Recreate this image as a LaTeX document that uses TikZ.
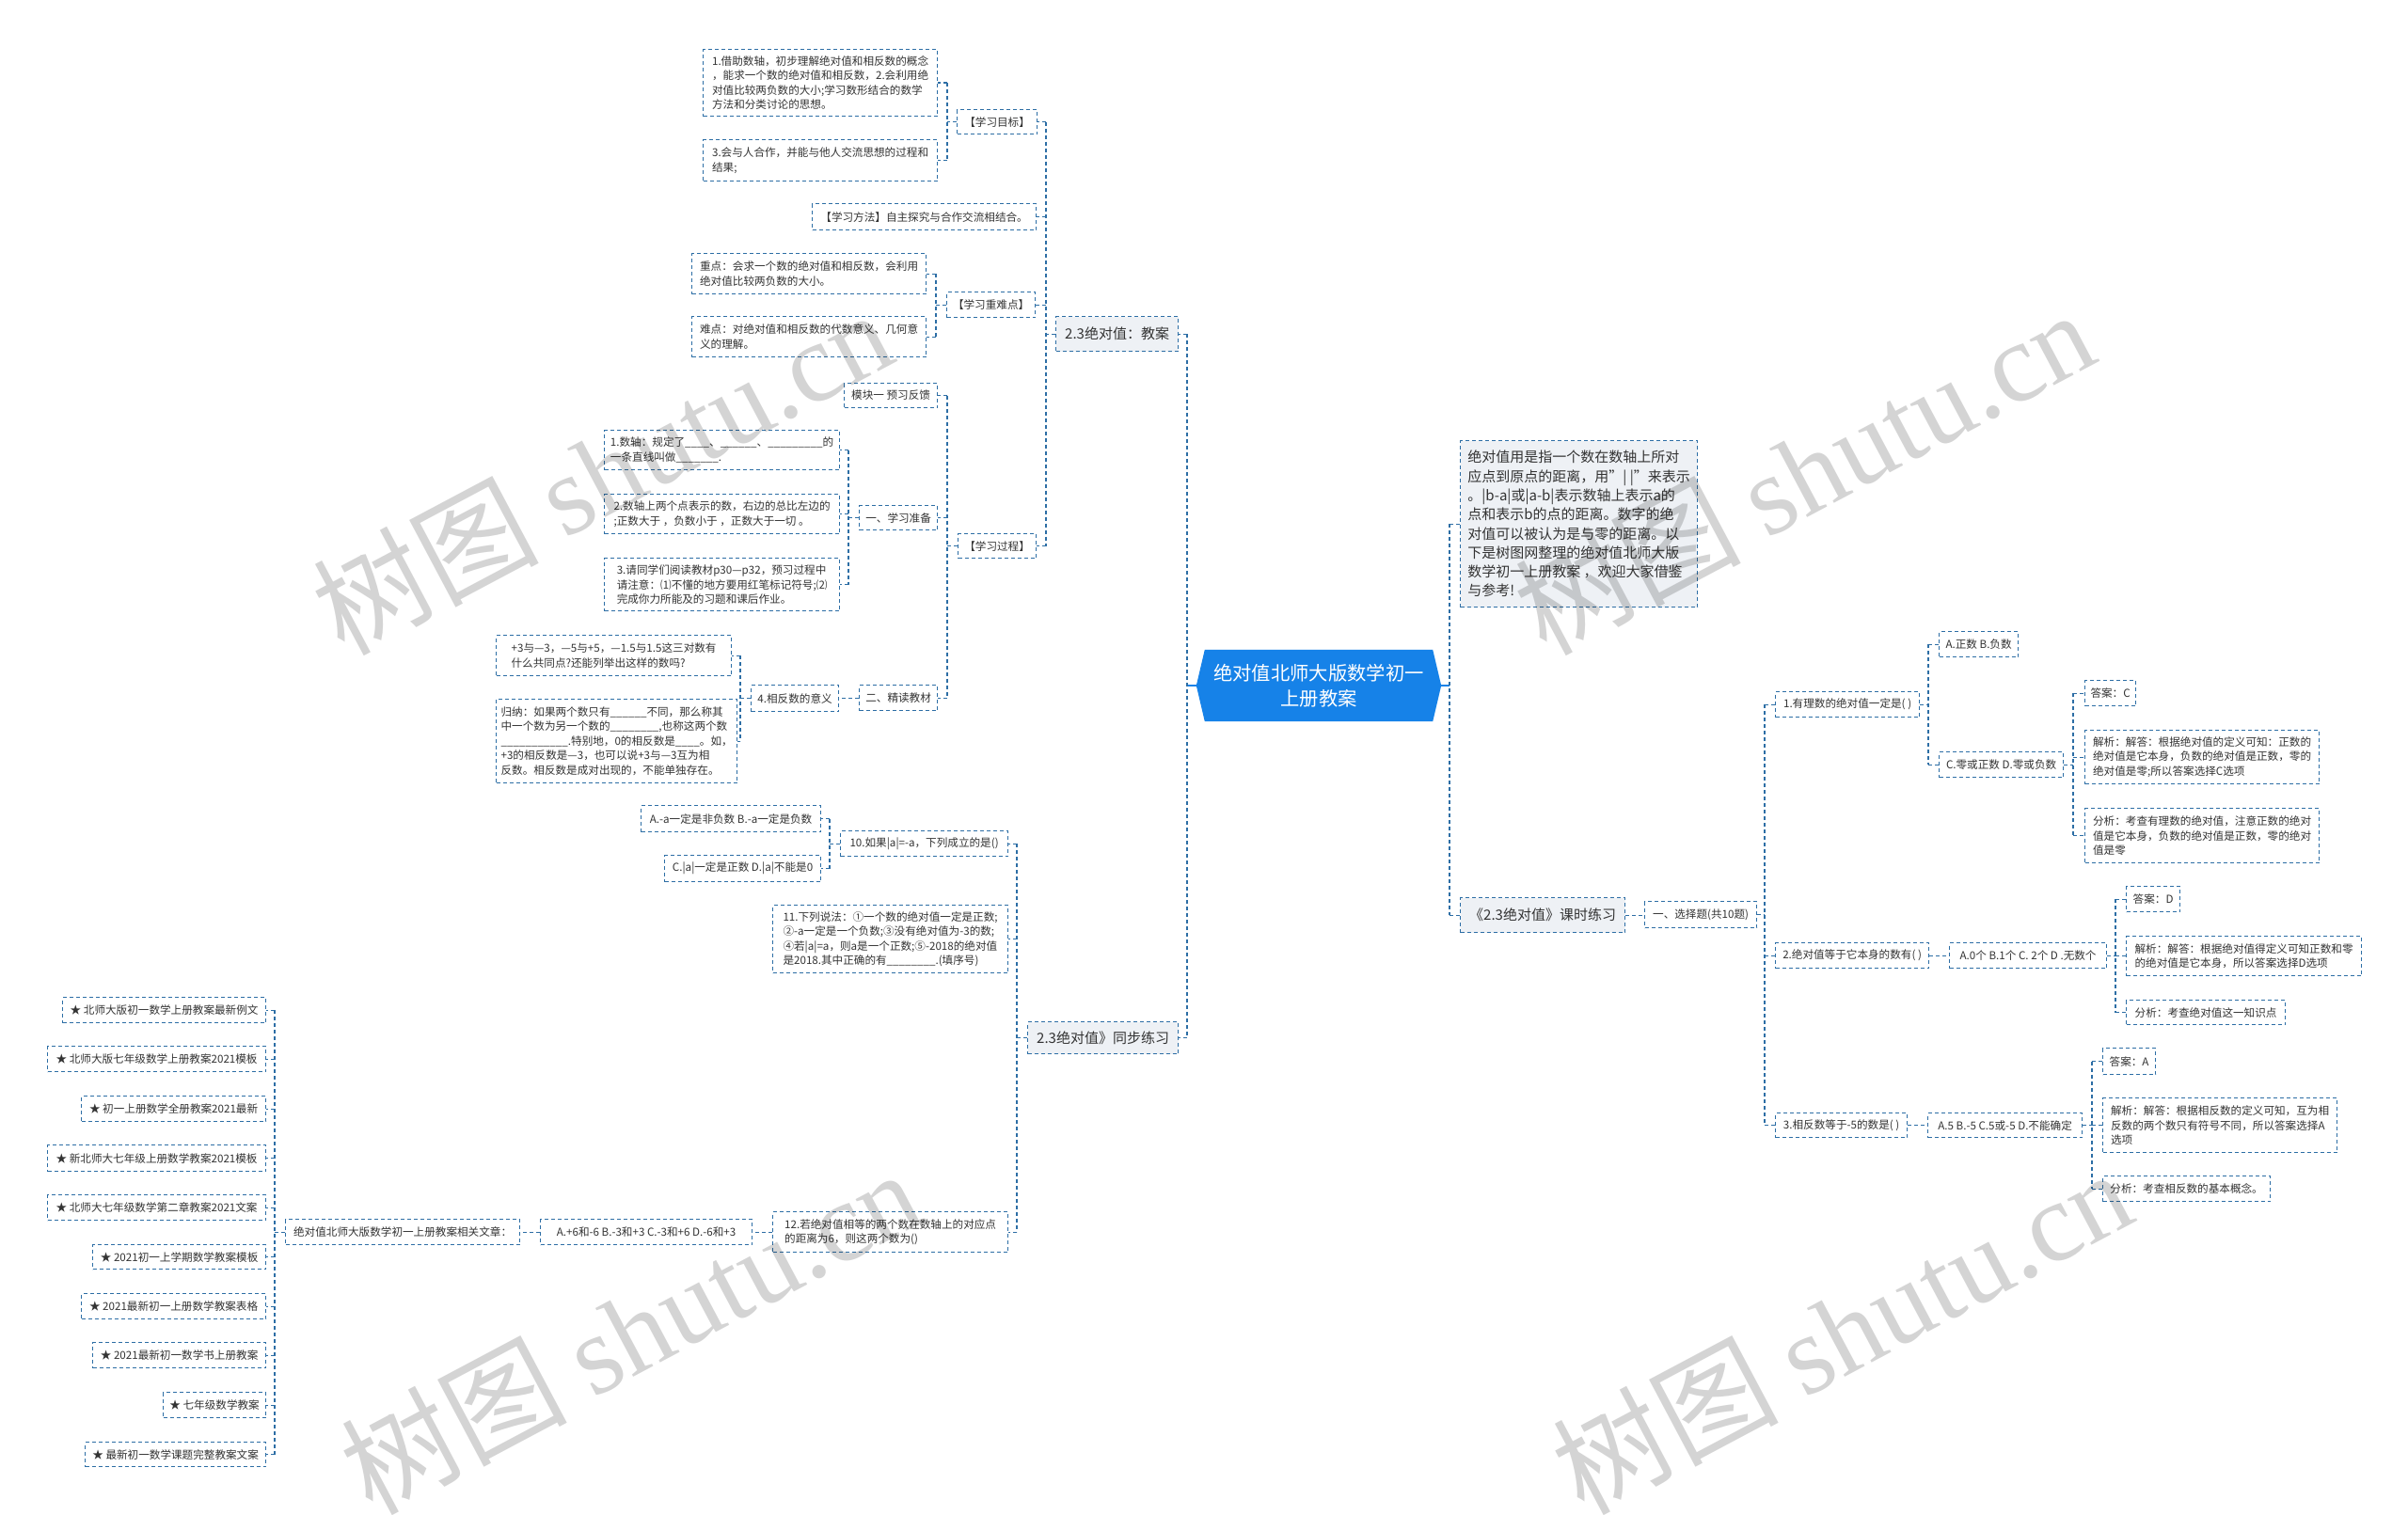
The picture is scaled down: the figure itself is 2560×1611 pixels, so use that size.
\documentclass[tikz,border=0pt]{standalone}
\usepackage{fontspec}
\setmainfont{Noto Sans CJK SC}
\newfontfamily\wmserif{Liberation Serif}
\usetikzlibrary{backgrounds}
\definecolor{linecol}{RGB}{45,110,165}
\definecolor{textcol}{RGB}{51,51,51}
\definecolor{mainblue}{RGB}{22,130,232}
\definecolor{lvlfill}{RGB}{238,241,245}
\newcommand{\mkbox}[7]{\node[bx,#6,minimum width={#4pt-#2pt},minimum height={#5pt-#3pt}] (#1) at (#2,#3) {#7};}
\tikzset{
  bx/.style={draw=linecol, line width=1.2pt, dash pattern=on 4pt off 3pt, fill=white, text=textcol,
    font=\fontsize{11.6}{15.5}\selectfont, align=left, inner xsep=5pt, inner ysep=3pt, anchor=north west},
  lvl/.style={fill=lvlfill, font=\fontsize{15}{20.3}\selectfont},
  conn/.style={draw=linecol, line width=1.2pt, dash pattern=on 4pt off 3pt},
  solidc/.style={draw=mainblue, line width=1.6pt},
  wm/.style={anchor=base west, rotate=28, font=\fontsize{120}{120}\selectfont, text=black, opacity=0.17},
}
\begin{document}
\begin{tikzpicture}[x=1pt,y=-1pt]
\useasboundingbox (0,0) rectangle (2560,1611);
% bus coordinates
\coordinate (bL) at (1262,0);
\coordinate (bR) at (1541,0);
\coordinate (bA) at (1112,0);
\coordinate (bB) at (1007,0);
\coordinate (bC) at (995,0);
\coordinate (bD) at (1007,0);
\coordinate (bE) at (902,0);
\coordinate (bF) at (787,0);
\coordinate (bG) at (1081,0);
\coordinate (bH) at (882,0);
\coordinate (bI) at (292,0);
\coordinate (bJ) at (1876,0);
\coordinate (bK) at (2050,0);
\coordinate (bM) at (2204,0);
\coordinate (bN) at (2249,0);
\coordinate (bP) at (2224,0);

% main node
\node[minimum width=260pt, minimum height=76pt, inner sep=0pt, text=white,
  font=\fontsize{20.3}{26.7}\selectfont, align=center] (main) at (1402,729) {绝对值北师大版数学初一\\上册教案};
\begin{scope}[on background layer]
\fill[mainblue] ([xshift=9pt]main.north west) -- ([xshift=-9pt]main.north east) -- (main.east)
  -- ([xshift=-9pt]main.south east) -- ([xshift=9pt]main.south west) -- (main.west) -- cycle;
\end{scope}

% ---------- left upper branch ----------
\mkbox{c1}{1122}{336}{1252}{373}{lvl}{2.3绝对值：教案}
\mkbox{t1}{1017}{116}{1102}{142}{}{【学习目标】}
\mkbox{t2}{863}{216}{1101}{244}{}{【学习方法】自主探究与合作交流相结合。}
\mkbox{t3}{1006}{310}{1100}{337}{}{【学习重难点】}
\mkbox{t4}{1018}{567}{1101}{593}{}{【学习过程】}
\mkbox{l1}{747}{52}{996}{123}{}{1.借助数轴，初步理解绝对值和相反数的概念\\，能求一个数的绝对值和相反数，2.会利用绝\\对值比较两负数的大小;学习数形结合的数学\\方法和分类讨论的思想。}
\mkbox{l2}{747}{148}{996}{192}{}{3.会与人合作，并能与他人交流思想的过程和\\结果;}
\mkbox{l3}{735}{269}{984}{312}{}{重点：会求一个数的绝对值和相反数，会利用\\绝对值比较两负数的大小。}
\mkbox{l4}{735}{336}{984}{379}{}{难点：对绝对值和相反数的代数意义、几何意\\义的理解。}
\mkbox{m1}{897}{407}{996}{433}{}{模块一 预习反馈}
\mkbox{m2}{913}{537}{996}{563}{}{一、学习准备}
\mkbox{m3}{913}{728}{996}{755}{}{二、精读教材}
\mkbox{p1}{642}{457}{892}{499}{}{1.数轴：规定了\_\_\_\_、\_\_\_\_\_\_、\_\_\_\_\_\_\_\_\_的\\一条直线叫做\_\_\_\_\_\_\_.}
\mkbox{p2}{642}{525}{892}{567}{}{2.数轴上两个点表示的数，右边的总比左边的\\;正数大于 ，负数小于 ，正数大于一切 。}
\mkbox{p3}{642}{593}{892}{649}{}{3.请同学们阅读教材p30—p32，预习过程中\\请注意：⑴不懂的地方要用红笔标记符号;⑵\\完成你力所能及的习题和课后作业。}
\mkbox{q0}{798}{728}{891}{756}{}{4.相反数的意义}
\mkbox{q1}{527}{675}{777}{718}{}{+3与—3，—5与+5，—1.5与1.5这三对数有\\什么共同点?还能列举出这样的数吗?}
\mkbox{q2}{527}{743}{777}{832}{}{归纳：如果两个数只有\_\_\_\_\_\_不同，那么称其\\中一个数为另一个数的\_\_\_\_\_\_\_\_,也称这两个数\\\_\_\_\_\_\_\_\_\_\_\_.特别地，0的相反数是\_\_\_\_。如，\\+3的相反数是—3，也可以说+3与—3互为相\\反数。相反数是成对出现的，不能单独存在。}

% ---------- left lower branch ----------
\mkbox{s0}{1092}{1086}{1252}{1120}{lvl}{2.3绝对值》同步练习}
\mkbox{s1}{893}{883}{1071}{910}{}{10.如果|a|=-a，下列成立的是()}
\mkbox{s1a}{681}{856}{872}{884}{}{A.-a一定是非负数 B.-a一定是负数}
\mkbox{s1b}{706}{909}{872}{937}{}{C.|a|一定是正数 D.|a|不能是0}
\mkbox{s2}{821}{962}{1071}{1034}{}{11.下列说法：①一个数的绝对值一定是正数;\\②-a一定是一个负数;③没有绝对值为-3的数;\\④若|a|=a，则a是一个正数;⑤-2018的绝对值\\是2018.其中正确的有\_\_\_\_\_\_\_\_.(填序号)}
\mkbox{s3}{821}{1288}{1071}{1331}{}{12.若绝对值相等的两个数在数轴上的对应点\\的距离为6，则这两个数为()}
\mkbox{s3a}{574}{1296}{799}{1323}{}{A.+6和-6 B.-3和+3 C.-3和+6 D.-6和+3}
\mkbox{r0}{303}{1296}{552}{1323}{}{绝对值北师大版数学初一上册教案相关文章：}
\mkbox{r1}{66}{1060}{282}{1087}{}{★ 北师大版初一数学上册教案最新例文}
\mkbox{r2}{50}{1112}{282}{1139}{}{★ 北师大版七年级数学上册教案2021模板}
\mkbox{r3}{86}{1165}{282}{1192}{}{★ 初一上册数学全册教案2021最新}
\mkbox{r4}{50}{1217}{282}{1245}{}{★ 新北师大七年级上册数学教案2021模板}
\mkbox{r5}{50}{1270}{282}{1297}{}{★ 北师大七年级数学第二章教案2021文案}
\mkbox{r6}{98}{1323}{282}{1349}{}{★ 2021初一上学期数学教案模板}
\mkbox{r7}{86}{1375}{282}{1402}{}{★ 2021最新初一上册数学教案表格}
\mkbox{r8}{98}{1427}{282}{1454}{}{★ 2021最新初一数学书上册教案}
\mkbox{r9}{173}{1480}{282}{1507}{}{★ 七年级数学教案}
\mkbox{r10}{90}{1533}{282}{1559}{}{★ 最新初一数学课题完整教案文案}

% ---------- right branch ----------
\mkbox{d}{1552}{468}{1804}{645}{lvl}{绝对值用是指一个数在数轴上所对\\应点到原点的距离，用"| |"来表示\\。|b-a|或|a-b|表示数轴上表示a的\\点和表示b的点的距离。数字的绝\\对值可以被认为是与零的距离。以\\下是树图网整理的绝对值北师大版\\数学初一上册教案 ，欢迎大家借鉴\\与参考!}
\mkbox{k}{1552}{954}{1727}{991}{lvl}{《2.3绝对值》课时练习}
\mkbox{x}{1748}{958}{1867}{986}{}{一、选择题(共10题)}
\mkbox{rq1}{1887}{735}{2040}{762}{}{1.有理数的绝对值一定是( )}
\mkbox{rq1a}{2061}{671}{2145}{698}{}{A.正数 B.负数}
\mkbox{rq1b}{2061}{799}{2193}{826}{}{C.零或正数 D.零或负数}
\mkbox{rq1c}{2216}{723}{2270}{750}{}{答案：C}
\mkbox{rq1d}{2216}{776}{2465}{833}{}{解析：解答：根据绝对值的定义可知：正数的\\绝对值是它本身，负数的绝对值是正数，零的\\绝对值是零;所以答案选择C选项}
\mkbox{rq1e}{2216}{859}{2465}{917}{}{分析：考查有理数的绝对值，注意正数的绝对\\值是它本身，负数的绝对值是正数，零的绝对\\值是零}
\mkbox{rq2}{1887}{1002}{2050}{1029}{}{2.绝对值等于它本身的数有( )}
\mkbox{rq2a}{2072}{1002}{2239}{1029}{}{A.0个 B.1个 C. 2个 D .无数个}
\mkbox{rq2b}{2260}{942}{2317}{969}{}{答案：D}
\mkbox{rq2c}{2260}{995}{2510}{1037}{}{解析：解答：根据绝对值得定义可知正数和零\\的绝对值是它本身，所以答案选择D选项}
\mkbox{rq2d}{2260}{1063}{2429}{1089}{}{分析：考查绝对值这一知识点}
\mkbox{rq3}{1887}{1183}{2027}{1209}{}{3.相反数等于-5的数是( )}
\mkbox{rq3a}{2049}{1183}{2213}{1209}{}{A.5 B.-5 C.5或-5 D.不能确定}
\mkbox{rq3b}{2235}{1114}{2291}{1142}{}{答案：A}
\mkbox{rq3c}{2235}{1167}{2484}{1225}{}{解析：解答：根据相反数的定义可知，互为相\\反数的两个数只有符号不同，所以答案选择A\\选项}
\mkbox{rq3d}{2235}{1250}{2413}{1277}{}{分析：考查相反数的基本概念。}

% ---------- connectors: main ----------
\draw[solidc] (main.west) -- (main.west -| bL);
\draw[solidc] (main.east) -- (main.east -| bR);
\draw[conn] (bL |- c1.east) -- (bL |- s0.east);
\foreach \c in {c1,s0} \draw[conn] (bL |- \c.east) -- (\c.east);
\draw[conn] (bR |- d.west) -- (bR |- k.west);
\foreach \c in {d,k} \draw[conn] (bR |- \c.west) -- (\c.west);

% left families
\draw[conn] (c1.west) -- (c1.west -| bA);
\draw[conn] (bA |- t1.east) -- (bA |- t4.east);
\foreach \c in {t1,t2,t3,t4} \draw[conn] (bA |- \c.east) -- (\c.east);

\draw[conn] (t1.west) -- (t1.west -| bB);
\draw[conn] (bB |- l1.east) -- (bB |- l2.east);
\foreach \c in {l1,l2} \draw[conn] (bB |- \c.east) -- (\c.east);

\draw[conn] (t3.west) -- (t3.west -| bC);
\draw[conn] (bC |- l3.east) -- (bC |- l4.east);
\foreach \c in {l3,l4} \draw[conn] (bC |- \c.east) -- (\c.east);

\draw[conn] (t4.west) -- (t4.west -| bD);
\draw[conn] (bD |- m1.east) -- (bD |- m3.east);
\foreach \c in {m1,m2,m3} \draw[conn] (bD |- \c.east) -- (\c.east);

\draw[conn] (m2.west) -- (m2.west -| bE);
\draw[conn] (bE |- p1.east) -- (bE |- p3.east);
\foreach \c in {p1,p2,p3} \draw[conn] (bE |- \c.east) -- (\c.east);

\draw[conn] (m3.west) -- (m3.west -| q0.east);

\draw[conn] (q0.west) -- (q0.west -| bF);
\draw[conn] (bF |- q1.east) -- (bF |- q2.east);
\foreach \c in {q1,q2} \draw[conn] (bF |- \c.east) -- (\c.east);

\draw[conn] (s0.west) -- (s0.west -| bG);
\draw[conn] (bG |- s1.east) -- (bG |- s3.east);
\foreach \c in {s1,s2,s3} \draw[conn] (bG |- \c.east) -- (\c.east);

\draw[conn] (s1.west) -- (s1.west -| bH);
\draw[conn] (bH |- s1a.east) -- (bH |- s1b.east);
\foreach \c in {s1a,s1b} \draw[conn] (bH |- \c.east) -- (\c.east);

\draw[conn] (s3.west) -- (s3.west -| s3a.east);
\draw[conn] (s3a.west) -- (s3a.west -| r0.east);

\draw[conn] (r0.west) -- (r0.west -| bI);
\draw[conn] (bI |- r1.east) -- (bI |- r10.east);
\foreach \c in {r1,r2,r3,r4,r5,r6,r7,r8,r9,r10} \draw[conn] (bI |- \c.east) -- (\c.east);

% right families
\draw[conn] (k.east) -- (k.east -| x.west);
\draw[conn] (x.east) -- (x.east -| bJ);
\draw[conn] (bJ |- rq1.west) -- (bJ |- rq3.west);
\foreach \c in {rq1,rq2,rq3} \draw[conn] (bJ |- \c.west) -- (\c.west);

\draw[conn] (rq1.east) -- (rq1.east -| bK);
\draw[conn] (bK |- rq1a.west) -- (bK |- rq1b.west);
\foreach \c in {rq1a,rq1b} \draw[conn] (bK |- \c.west) -- (\c.west);

\draw[conn] (rq1b.east) -- (rq1b.east -| bM);
\draw[conn] (bM |- rq1c.west) -- (bM |- rq1e.west);
\foreach \c in {rq1c,rq1d,rq1e} \draw[conn] (bM |- \c.west) -- (\c.west);

\draw[conn] (rq2.east) -- (rq2.east -| rq2a.west);
\draw[conn] (rq2a.east) -- (rq2a.east -| bN);
\draw[conn] (bN |- rq2b.west) -- (bN |- rq2d.west);
\foreach \c in {rq2b,rq2c,rq2d} \draw[conn] (bN |- \c.west) -- (\c.west);

\draw[conn] (rq3.east) -- (rq3.east -| rq3a.west);
\draw[conn] (rq3a.east) -- (rq3a.east -| bP);
\draw[conn] (bP |- rq3b.west) -- (bP |- rq3d.west);
\foreach \c in {rq3b,rq3c,rq3d} \draw[conn] (bP |- \c.west) -- (\c.west);

% watermarks
\node[wm] (w1) at (362,700) {树图 {\wmserif shutu.cn}};
\node[wm] (w2) at (1640,700) {树图 {\wmserif shutu.cn}};
\node[wm] (w3) at (392,1614) {树图 {\wmserif shutu.cn}};
\node[wm] (w4) at (1680,1614) {树图 {\wmserif shutu.cn}};
\end{tikzpicture}
\end{document}
